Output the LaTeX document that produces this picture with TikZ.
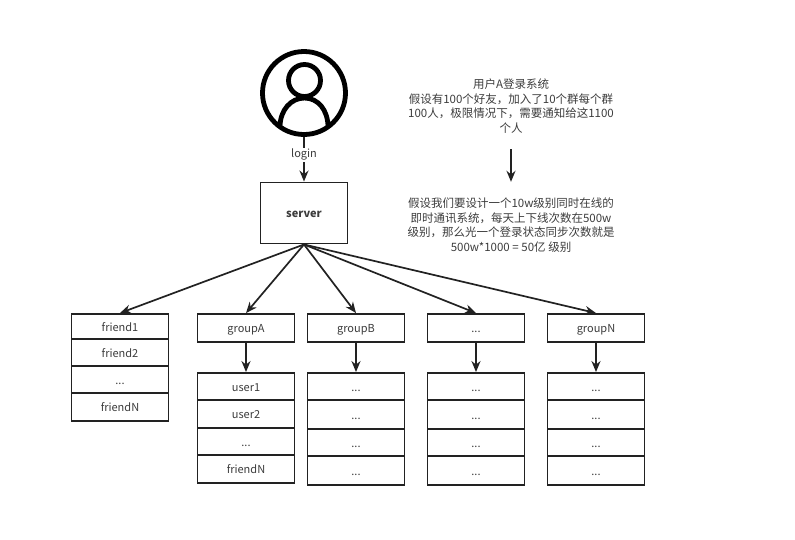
\documentclass[tikz,border=0pt]{standalone}
\usepackage{fontspec}
\setmainfont{Noto Sans CJK SC}
\usepackage{tikz}
\usetikzlibrary{arrows.meta,positioning}
\definecolor{inkdark}{RGB}{34,34,34}
\definecolor{textgray}{RGB}{60,60,60}
\tikzset{
  cell/.style={draw=inkdark, line width=1.9pt, minimum width=97pt, text=textgray, inner sep=0pt, text height=10pt, text depth=1pt, font=\fontsize{11}{13}\selectfont},
  note/.style={text=textgray, align=center, inner sep=0pt, font=\fontsize{11.5}{14.5}\selectfont},
  link/.style={-{Stealth[length=11pt,width=9pt]}, line width=1.7pt, draw=inkdark},
  iconline/.style={draw=black, line width=4.8pt}
}
\begin{document}
\begin{tikzpicture}[x=1pt, y=-1pt]
  \useasboundingbox (0,0) rectangle (795,539);
  \node[iconline, circle, minimum size=83pt, inner sep=0pt] (user) at (304,93) {};
  \node[iconline, circle, minimum size=32pt, inner sep=0pt] (head) at (304.5,80.5) {};
  \draw[iconline] (280,127) .. controls (280,110) and (291,98) .. (304.5,98) .. controls (318,98) and (328,110) .. (328,127);
  \node[cell, minimum width=87pt, minimum height=61pt, font=\fontsize{11}{13}\selectfont\bfseries] (server) at (304,213) {server};
  \draw[link] (user) -- node[pos=0.4, fill=white, text=textgray, inner sep=1.5pt, font=\fontsize{11}{13}\selectfont] (login) {login} (server);

  \node[note, minimum height=86pt] (noteA) at (511,106) {用户A登录系统\\假设有100个好友，加入了10个群每个群\\100人，极限情况下，需要通知给这1100\\个人};
  \node[note, minimum height=86pt] (noteB) at (511,225) {假设我们要设计一个10w级别同时在线的\\即时通讯系统，每天上下线次数在500w\\级别，那么光一个登录状态同步次数就是\\500w*1000 = 50亿 级别};
  \draw[link] (noteA) -- (noteB);

  \node[cell, minimum height=25pt] (friend1) at (120,326.5) {friend1};
  \node[cell, minimum height=27pt] (friend2) at (120,352.5) {friend2};
  \node[cell, minimum height=27pt] (friend3) at (120,379.5) {...};
  \node[cell, minimum height=28pt] (friendN) at (120,407) {friendN};

  \node[cell, minimum height=28pt] (groupA) at (246,328) {groupA};
  \node[cell, minimum height=28pt] (groupB) at (356,328) {groupB};
  \node[cell, minimum height=28pt] (groupC) at (476,328) {...};
  \node[cell, minimum height=28pt] (groupN) at (596,328) {groupN};

  \node[cell, minimum height=27pt] (userA1) at (246,386.5) {user1};
  \node[cell, minimum height=28pt] (userA2) at (246,414) {user2};
  \node[cell, minimum height=27pt] (userA3) at (246,441.5) {...};
  \node[cell, minimum height=28pt] (userA4) at (246,469) {friendN};

  \foreach \name/\xpos in {B/356, C/476, N/596} {
    \node[cell, minimum height=27pt] (user\name1) at (\xpos,386.5) {...};
    \node[cell, minimum height=29pt] (user\name2) at (\xpos,414.5) {...};
    \node[cell, minimum height=27pt] (user\name3) at (\xpos,442.5) {...};
    \node[cell, minimum height=29pt] (user\name4) at (\xpos,470.5) {...};
  }

  \foreach \name in {friend1, groupA, groupB, groupC, groupN}
    \draw[link] (server.south) -- (\name.north);
  \foreach \name in {A, B, C, N}
    \draw[link] (group\name) -- (user\name1);
\end{tikzpicture}
\end{document}
